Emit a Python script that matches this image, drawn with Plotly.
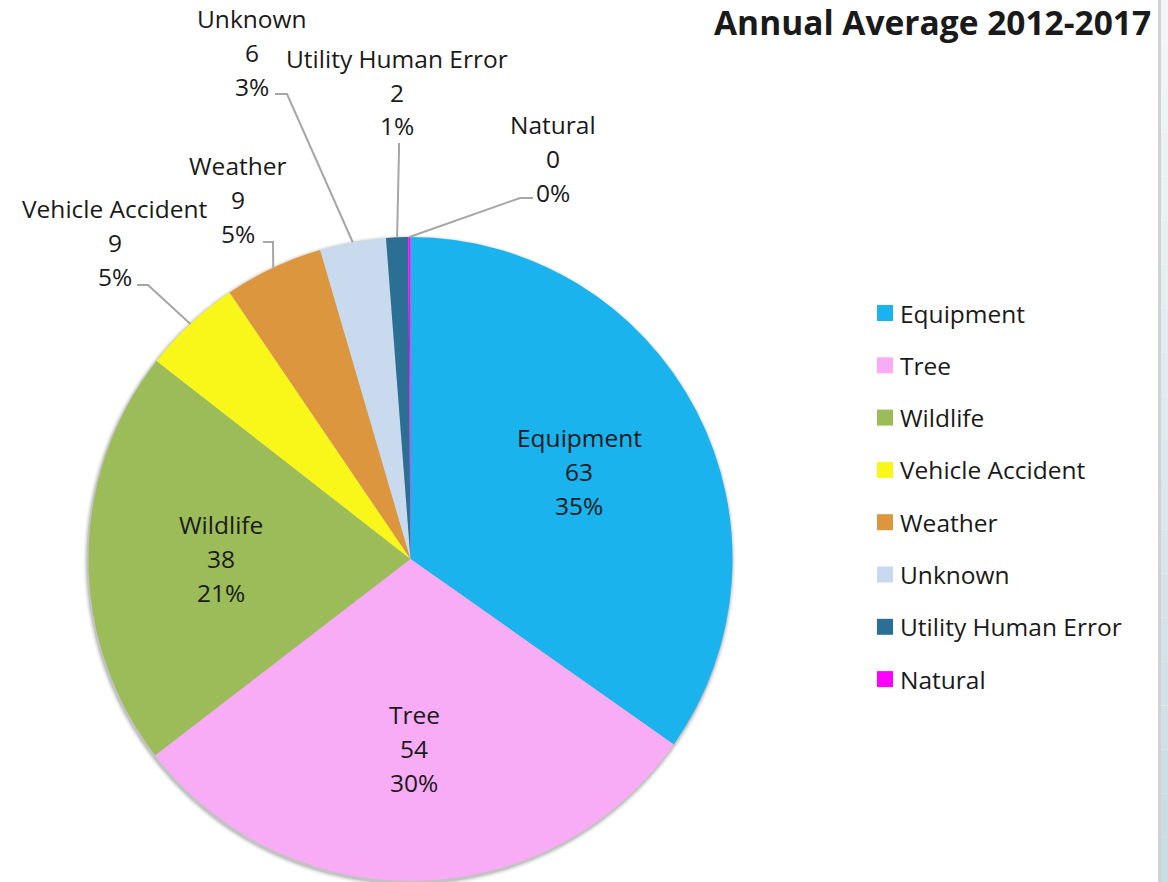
import math
import plotly.graph_objects as go

# ---- data -------------------------------------------------------------
categories = ["Equipment", "Tree", "Wildlife", "Vehicle Accident",
              "Weather", "Unknown", "Utility Human Error", "Natural"]
values = [63, 54, 38, 9, 9, 6, 2, 0.2]
colors = ["#1BB3EE", "#F7ACF5", "#9CBC59", "#F9F71A",
          "#DC963E", "#C9DAEF", "#2B6F95", "#FF00FF"]
title_text = "Annual Average 2012-2017"

# ---- page geometry (pixels) -----------------------------------------
W, H = 1168, 882
CX, CY, R = 410.5, 559.0, 322.0
FONT = "Open Sans"
TEXT_COLOR = "#1A1A1A"
LABEL_SIZE = 24.5
TITLE_SIZE = 33.5
LINE_GAP = 34           # vertical distance between label lines
INSIDE_FRACTION = 0.59  # radial position of in-slice labels

# label placement for the small slices: text centre of the middle line,
# plus the start and elbow of the leader line
outside_labels = {
    "Vehicle Accident":    {"text": (115, 242), "start": (137, 285), "elbow": (148, 285)},
    "Weather":             {"text": (238, 199), "start": (263, 242), "elbow": (273, 242)},
    "Unknown":             {"text": (252, 52),  "start": (275, 94),  "elbow": (287, 94)},
    "Utility Human Error": {"text": (397, 92),  "start": (399, 143), "elbow": (399, 150)},
    "Natural":             {"text": (553, 158), "start": (533, 198), "elbow": (520, 198)},
}


def px(x):
    return x / W


def py(y):
    return 1 - y / H


def polar(theta_deg, r):
    """Point on the pie: angle clockwise from 12 o'clock, radius in px."""
    t = math.radians(theta_deg)
    return CX + r * math.sin(t), CY - r * math.cos(t)


total = sum(values)
mid_angles = []
acc = 0.0
for v in values:
    mid_angles.append((acc + v / 2) / total * 360)
    acc += v

fig = go.Figure(go.Pie(
    labels=categories,
    values=values,
    sort=False,
    direction="clockwise",
    rotation=0,
    marker=dict(colors=colors, line=dict(width=0)),
    textinfo="none",
    showlegend=False,
    domain=dict(x=[px(CX - R), px(CX + R)], y=[py(CY + R), py(CY - R)]),
    hovertemplate="%{label}<br>%{value:.0f}<br>%{percent:.0%}<extra></extra>",
))

annotations = []
shapes = []


def add_text(x, y, s, size=LABEL_SIZE, bold=False, xanchor="center"):
    annotations.append(dict(
        x=px(x), y=py(y), xref="paper", yref="paper", text=s,
        showarrow=False, xanchor=xanchor, yanchor="middle",
        font=dict(family=FONT, size=size, color=TEXT_COLOR,
                  weight="bold" if bold else "normal"),
    ))


# data labels
for cat, v, ang in zip(categories, values, mid_angles):
    lines = [cat, f"{v:.0f}", f"{round(v / total * 100):.0f}%"]
    if cat in outside_labels:
        cfg = outside_labels[cat]
        tx, ty = cfg["text"]
        ex, ey = polar(ang, R)
        (sx, sy), (kx, ky) = cfg["start"], cfg["elbow"]
        shapes.append(dict(
            type="path", xref="paper", yref="paper",
            path=f"M {px(sx)} {py(sy)} L {px(kx)} {py(ky)} L {px(ex)} {py(ey)}",
            line=dict(color="#A6A6A6", width=2),
        ))
    else:
        tx, ty = polar(ang, R * INSIDE_FRACTION)
    for i, s in enumerate(lines):
        add_text(tx, ty + (i - 1) * LINE_GAP, s)

# title
add_text(1153, 22, title_text, size=TITLE_SIZE, bold=True, xanchor="right")

# legend
LEG_X, LEG_Y0, LEG_DY, SQ = 885, 313, 52.3, 16
for i, (cat, col) in enumerate(zip(categories, colors)):
    yc = LEG_Y0 + i * LEG_DY
    shapes.append(dict(
        type="rect", xref="paper", yref="paper",
        x0=px(LEG_X - SQ / 2), x1=px(LEG_X + SQ / 2),
        y0=py(yc + SQ / 2), y1=py(yc - SQ / 2),
        fillcolor=col, line=dict(width=0),
    ))
    add_text(LEG_X + 13, yc, cat, xanchor="left")

# soft shadow under the pie
for grow, alpha in [(4, 0.05), (2.5, 0.08), (1.2, 0.12)]:
    shapes.append(dict(
        type="circle", xref="paper", yref="paper", layer="below",
        x0=px(CX - 1 - R - grow), x1=px(CX - 1 + R + grow),
        y0=py(CY + 2 + R + grow), y1=py(CY + 2 - R - grow),
        fillcolor=f"rgba(0,0,0,{alpha})", line=dict(width=0),
    ))

# panel edge on the right side
shapes.append(dict(type="rect", xref="paper", yref="paper",
                   x0=px(1158), x1=px(1161), y0=0, y1=1,
                   fillcolor="#D2D2D2", line=dict(width=0)))
bands = 20
top_rgb, bot_rgb = (243, 246, 247), (200, 220, 228)
for b in range(bands):
    f = b / (bands - 1)
    c = tuple(round(t + (u - t) * f) for t, u in zip(top_rgb, bot_rgb))
    shapes.append(dict(
        type="rect", xref="paper", yref="paper",
        x0=px(1161), x1=1, y0=py(H * (b + 1) / bands), y1=py(H * b / bands),
        fillcolor=f"rgb{c}", line=dict(width=0),
    ))

fig.update_layout(
    width=W, height=H,
    margin=dict(l=0, r=0, t=0, b=0),
    paper_bgcolor="white",
    plot_bgcolor="white",
    annotations=annotations,
    shapes=shapes,
    font=dict(family=FONT),
)

fig.write_html("out.html")
